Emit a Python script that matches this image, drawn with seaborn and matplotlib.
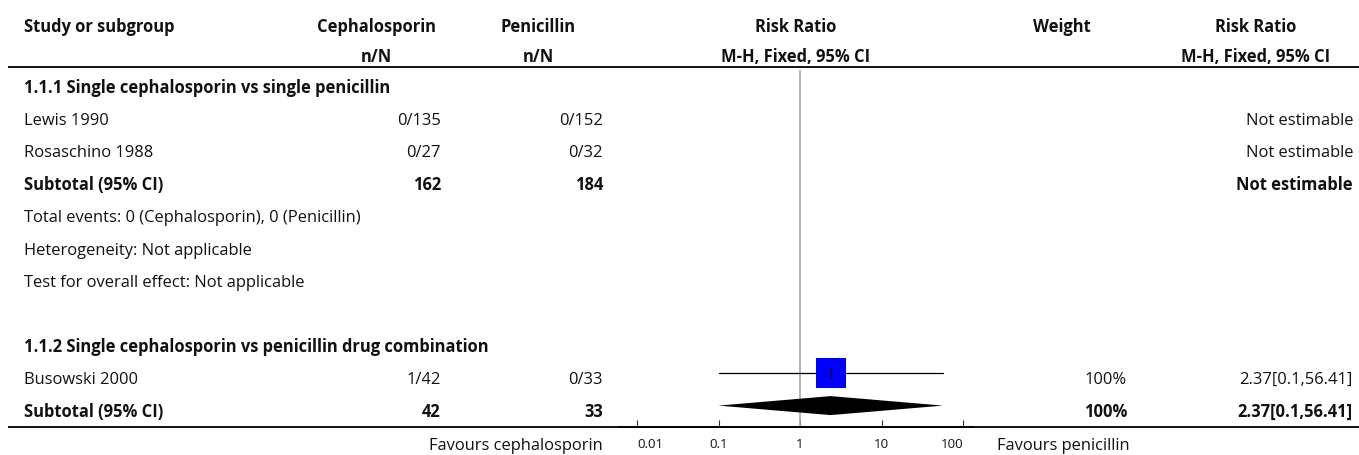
import numpy as np
import matplotlib
matplotlib.use("Agg")
import matplotlib.pyplot as plt
from matplotlib.ticker import FixedLocator, NullLocator
import seaborn as sns
import pandas as pd

# ---------------- data ----------------
group_titles = ["1.1.1 Single cephalosporin vs single penicillin",
                "1.1.2 Single cephalosporin vs penicillin drug combination"]
studies = ["Lewis 1990", "Rosaschino 1988", "Busowski 2000"]
study_group = [0, 0, 1]
ceph_events = [0, 0, 1]
ceph_total = [135, 27, 42]
pen_events = [0, 0, 0]
pen_total = [152, 32, 33]
rr = [np.nan, np.nan, 2.37]
rr_low = [np.nan, np.nan, 0.1]
rr_high = [np.nan, np.nan, 56.41]
weights = [None, None, 100]
sub_ceph_total = [162, 42]
sub_pen_total = [184, 33]
sub_rr = [np.nan, 2.37]
sub_low = [np.nan, 0.1]
sub_high = [np.nan, 56.41]
sub_weight = [None, 100]
sub_events = [(0, 0), None]
tick_values = [0.01, 0.1, 1, 10, 100]
tick_labels = ["0.01", "0.1", "1", "10", "100"]
headers1 = ["Study or subgroup", "Cephalosporin", "Penicillin", "Risk Ratio", "Weight", "Risk Ratio"]
headers2 = ["", "n/N", "n/N", "M-H, Fixed, 95% CI", "", "M-H, Fixed, 95% CI"]
favours_left = "Favours cephalosporin"
favours_right = "Favours penicillin"

# ---------------- style ----------------
sns.set_theme(style="white")
plt.rcParams["font.family"] = ["Open Sans", "DejaVu Sans"]
FS = 11.9
TFS = 9.6
TXT = "#111111"

W, H = 1359, 456
fig = plt.figure(figsize=(W / 100, H / 100), dpi=100)
ax = fig.add_axes([0, 0, 1, 1])
ax.set_xlim(0, W)
ax.set_ylim(H, 0)
ax.axis("off")

# forest axes geometry (pixels)
FX0, FX1 = 619, 973
FY0, FY1 = 71, 428
fx = fig.add_axes([FX0 / W, (H - FY1) / H, (FX1 - FX0) / W, (FY1 - FY0) / H])
fx.set_facecolor("none")
fx.set_xscale("log")
fx.set_xlim(10 ** -2.22, 10 ** 2.12)
fx.set_ylim(FY1, FY0)

# columns
X_STUDY = 24
C_CEPH, R_CEPH = 376, 441
C_PEN, R_PEN = 538, 603
C_FOREST = (FX0 + FX1) / 2
C_W, R_W = 1062, 1127
C_RR, R_RR = 1256, 1353
ROW0, DY = 82.6, 32.4
TOFF = 10


def row_y(k):
    return ROW0 + DY * k


def txt(x, y, s, ha="left", bold=False):
    ax.text(x, y, s, ha=ha, va="baseline", fontsize=FS, color=TXT,
            fontweight="bold" if bold else "normal")


# headers
hx = [X_STUDY, C_CEPH, C_PEN, C_FOREST, C_W, C_RR]
hha = ["left", "center", "center", "center", "center", "center"]
for x, a, h1, h2 in zip(hx, hha, headers1, headers2):
    txt(x, 32, h1, ha=a, bold=True)
    if h2:
        txt(x, 62.5, h2, ha=a, bold=True)

ax.plot([8, W], [68, 68], color="black", lw=1.3, solid_capstyle="butt")
ax.plot([8, W], [FY1 + 0.5, FY1 + 0.5], color="black", lw=1.3, solid_capstyle="butt")

# rows
k = 0
square_rows = []
diamond_rows = []
for g in range(2):
    txt(X_STUDY, row_y(k) + TOFF, group_titles[g], bold=True)
    k += 1
    for i, s in enumerate(studies):
        if study_group[i] != g:
            continue
        y = row_y(k) + TOFF
        txt(X_STUDY, y, s)
        txt(R_CEPH, y, f"{ceph_events[i]}/{ceph_total[i]}", ha="right")
        txt(R_PEN, y, f"{pen_events[i]}/{pen_total[i]}", ha="right")
        if np.isnan(rr[i]):
            txt(R_RR, y, "Not estimable", ha="right")
        else:
            txt(R_W, y, f"{weights[i]}%", ha="right")
            txt(R_RR, y, f"{rr[i]:.2f}[{rr_low[i]:g},{rr_high[i]:.2f}]", ha="right")
            square_rows.append((row_y(k), rr[i], rr_low[i], rr_high[i]))
        k += 1
    y = row_y(k) + TOFF
    txt(X_STUDY, y, "Subtotal (95% CI)", bold=True)
    txt(R_CEPH, y, f"{sub_ceph_total[g]}", ha="right", bold=True)
    txt(R_PEN, y, f"{sub_pen_total[g]}", ha="right", bold=True)
    if np.isnan(sub_rr[g]):
        txt(R_RR, y, "Not estimable", ha="right", bold=True)
    else:
        txt(R_W, y, f"{sub_weight[g]}%", ha="right", bold=True)
        txt(R_RR, y, f"{sub_rr[g]:.2f}[{sub_low[g]:g},{sub_high[g]:.2f}]", ha="right", bold=True)
        diamond_rows.append((row_y(k), sub_rr[g], sub_low[g], sub_high[g]))
    k += 1
    if sub_events[g] is not None:
        e1, e2 = sub_events[g]
        txt(X_STUDY, row_y(k) + TOFF, f"Total events: {e1} (Cephalosporin), {e2} (Penicillin)")
        k += 1
        txt(X_STUDY, row_y(k) + TOFF, "Heterogeneity: Not applicable")
        k += 1
        txt(X_STUDY, row_y(k) + TOFF, "Test for overall effect: Not applicable")
        k += 1
        k += 1  # blank row

# favours labels
txt(R_PEN, 450, favours_left, ha="right")
txt(997, 450, favours_right, ha="left")

# ---------------- forest ----------------
fx.plot([1, 1], [FY0, FY1], color="#a8a8a8", lw=1.2, zorder=1)
for (y, est, lo, hi) in square_rows:
    fx.plot([lo, hi], [y, y], color="black", lw=0.9, zorder=2)
    df = pd.DataFrame({"x": [est], "y": [y]})
    sns.scatterplot(data=df, x="x", y="y", marker="s", s=498, color="#0000ff",
                    linewidth=0, ax=fx, zorder=3, legend=False)
    fx.plot([est], [y], marker="|", ms=7.2, mew=1.0, color="black", zorder=4)
for (y, est, lo, hi) in diamond_rows:
    fx.fill([lo, est, hi, est], [y, y - 9.5, y, y + 9.5], color="black", lw=0, zorder=3)

fx.set_xlabel("")
fx.set_ylabel("")
for sp in ["top", "left", "right"]:
    fx.spines[sp].set_visible(False)
fx.spines["bottom"].set_color("black")
fx.spines["bottom"].set_linewidth(1.3)
fx.set_yticks([])
fx.xaxis.set_major_locator(FixedLocator(tick_values))
fx.xaxis.set_minor_locator(NullLocator())
fx.set_xticklabels(tick_labels)
fx.tick_params(axis="x", direction="in", length=5, width=0.8, color="#333333",
               labelsize=TFS, labelcolor=TXT, pad=7, bottom=True)
labs = fx.get_xticklabels()
labs[0].set_ha("left")
labs[-1].set_ha("right")

fig.savefig("out.png", dpi=100)
